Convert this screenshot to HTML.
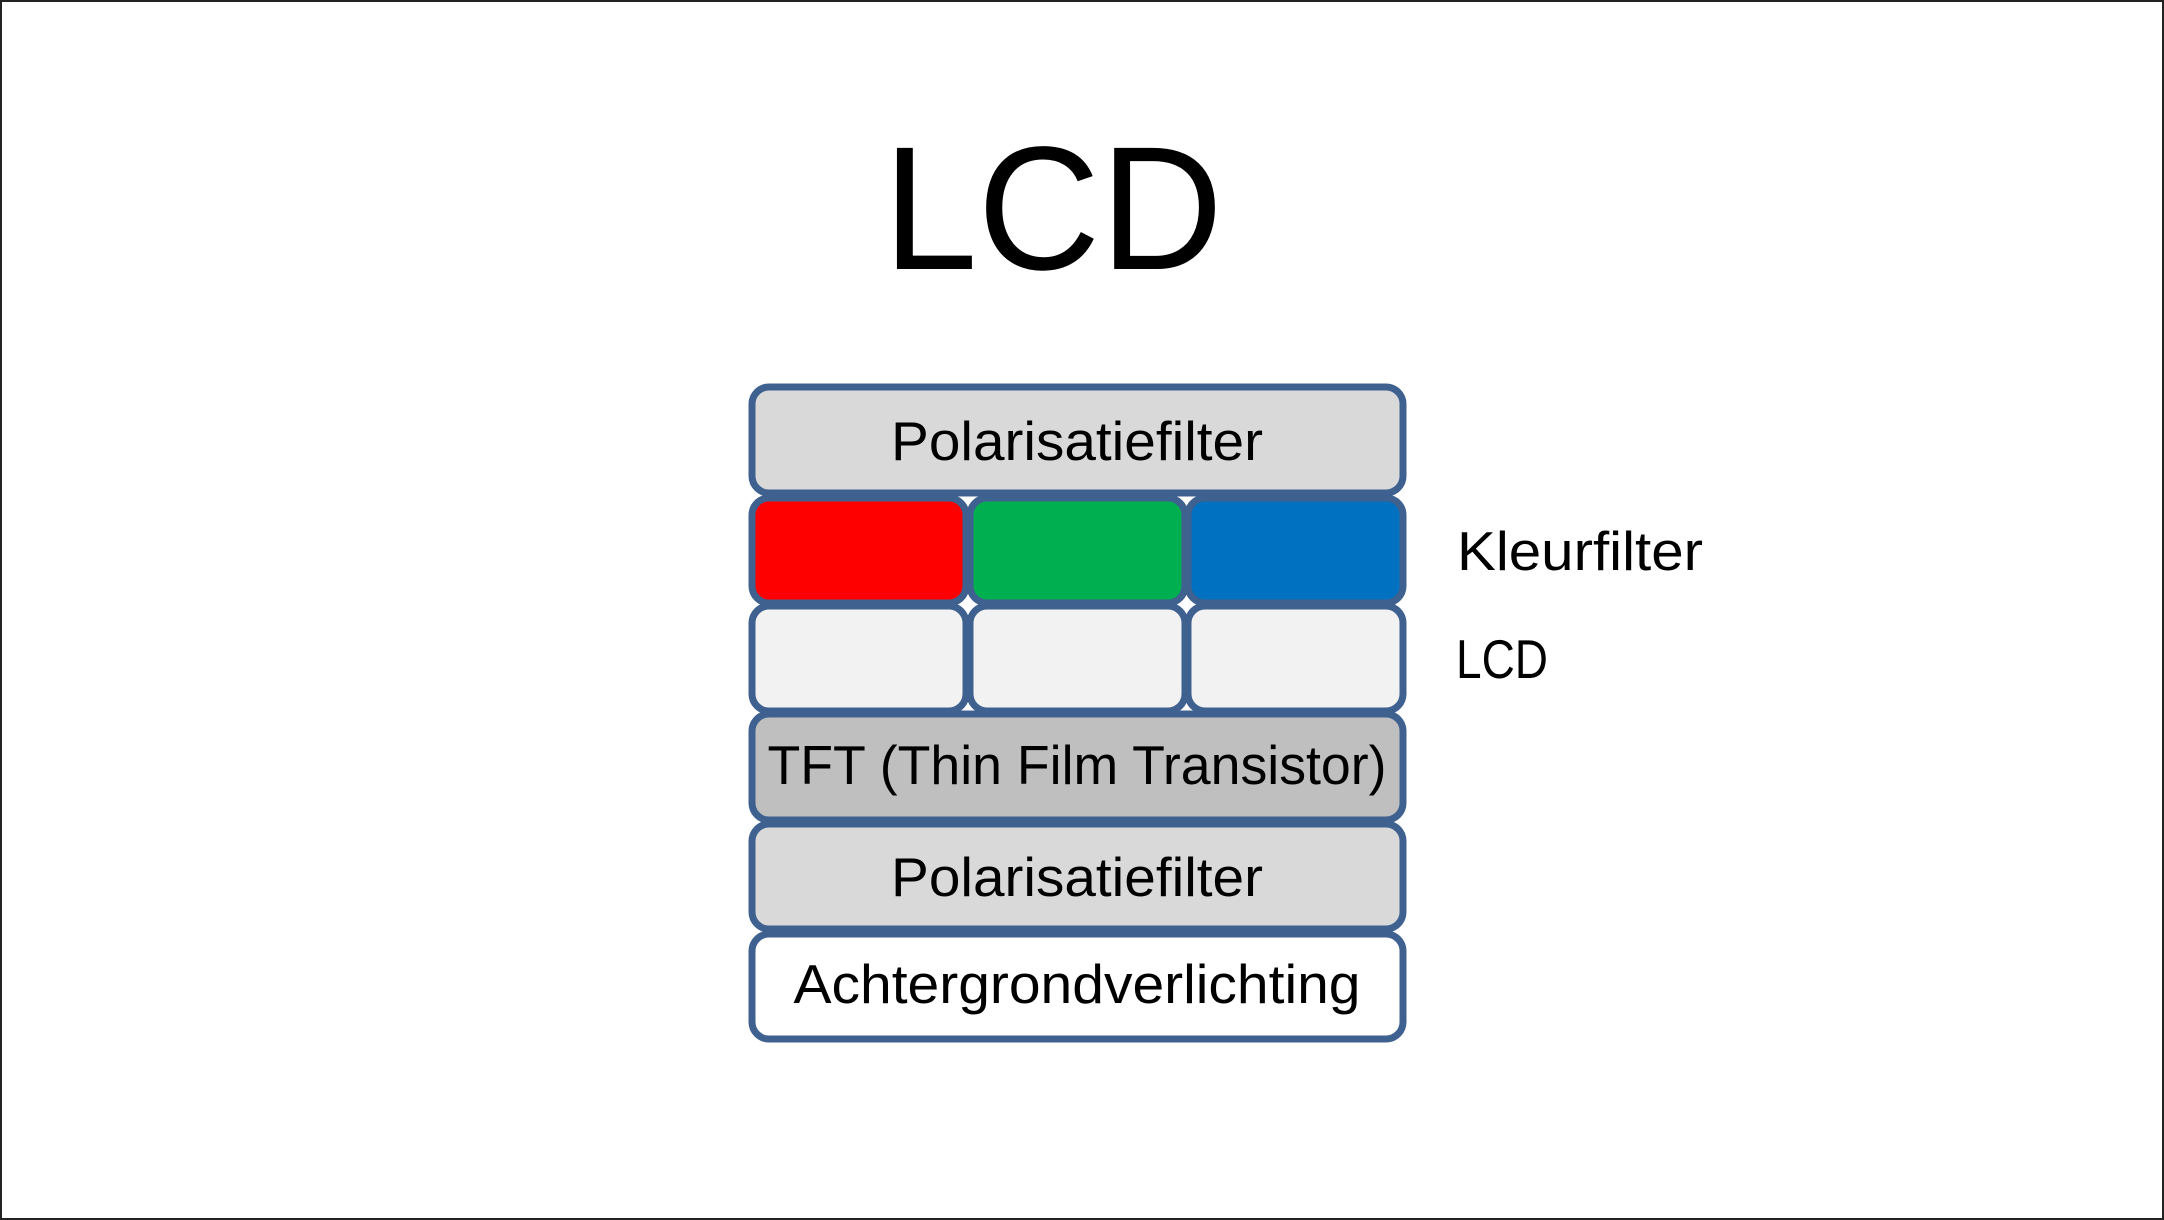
<!DOCTYPE html>
<html><head><style>html,body{margin:0;padding:0;background:#fff}svg{display:block}</style></head>
<body>
<svg width="2164" height="1220" viewBox="0 0 2164 1220" xmlns="http://www.w3.org/2000/svg" font-family="'Liberation Sans', sans-serif">
<rect x="1" y="1" width="2162" height="1218" fill="#fff" stroke="#222" stroke-width="2"/>
<text x="1053" y="269" font-size="176" text-anchor="middle" textLength="340" lengthAdjust="spacingAndGlyphs" fill="#000">LCD</text>
<g stroke="#3f6190" stroke-width="7">
<rect x="752" y="387" width="651" height="106" rx="17" fill="#d9d9d9"/>
<rect x="752" y="498" width="214" height="105" rx="17" fill="#ff0000"/>
<rect x="970" y="498" width="215" height="105" rx="17" fill="#00b050"/>
<rect x="1188" y="498" width="215" height="105" rx="17" fill="#0070c0"/>
<rect x="752" y="606" width="214" height="105" rx="17" fill="#f2f2f2"/>
<rect x="970" y="606" width="215" height="105" rx="17" fill="#f2f2f2"/>
<rect x="1188" y="606" width="215" height="105" rx="17" fill="#f2f2f2"/>
<rect x="752" y="714" width="651" height="106" rx="17" fill="#bfbfbf"/>
<rect x="752" y="824" width="651" height="105" rx="17" fill="#d9d9d9"/>
<rect x="752" y="934" width="651" height="105" rx="17" fill="#ffffff"/>
</g>
<g font-size="55" fill="#000" text-anchor="middle">
<text x="1077" y="460" textLength="372" lengthAdjust="spacingAndGlyphs">Polarisatiefilter</text>
<text x="1077" y="784" textLength="619" lengthAdjust="spacingAndGlyphs">TFT (Thin Film Transistor)</text>
<text x="1077" y="896" textLength="372" lengthAdjust="spacingAndGlyphs">Polarisatiefilter</text>
<text x="1077" y="1003" textLength="567" lengthAdjust="spacingAndGlyphs">Achtergrondverlichting</text>
</g>
<text x="1457" y="570" font-size="55" textLength="246" lengthAdjust="spacingAndGlyphs">Kleurfilter</text>
<text x="1456" y="678" font-size="55" textLength="92" lengthAdjust="spacingAndGlyphs">LCD</text>
</svg>
</body></html>
